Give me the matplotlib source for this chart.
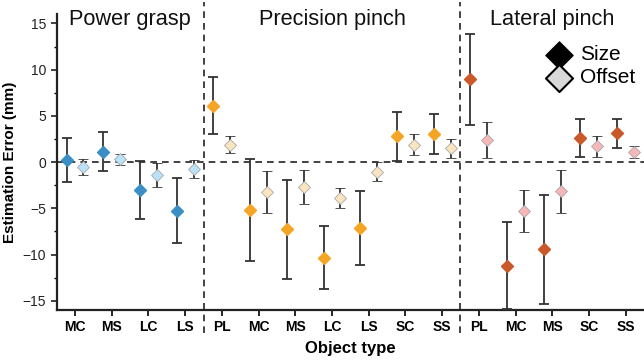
import matplotlib.pyplot as plt
import numpy as np

plt.rcParams['font.family'] = ['Liberation Sans', 'DejaVu Sans']

#------------------- datos -------------------
categorias = ['MC', 'MS', 'LC', 'LS',
              'PL', 'MC', 'MS', 'LC', 'LS', 'SC', 'SS',
              'PL', 'MC', 'MS', 'SC', 'SS']
grupos = ['Power grasp', 'Precision pinch', 'Lateral pinch']
n_grupo = [4, 7, 5]

size_val = [0.2, 1.1, -3.0, -5.25,
            6.1, -5.2, -7.25, -10.35, -7.1, 2.8, 3.05,
            8.95, -11.2, -9.45, 2.6, 3.1]
size_err = [2.4, 2.1, 3.15, 3.5,
            3.05, 5.5, 5.35, 3.4, 4.0, 2.65, 2.2,
            4.95, 4.7, 5.85, 2.1, 1.6]
offset_val = [-0.55, 0.32, -1.4, -0.75,
              1.9, -3.25, -2.7, -3.9, -1.05, 1.88, 1.5,
              2.4, -5.3, -3.18, 1.7, 1.08]
offset_err = [0.85, 0.6, 1.3, 0.97,
              0.93, 2.3, 1.8, 1.1, 1.05, 1.13, 1.05,
              1.93, 2.27, 2.3, 1.1, 0.62]

color_size = ['#3b8fc5', '#f5a524', '#c9582a']
color_offset = ['#b9e1f8', '#fbe5c0', '#f7b7b9']
#---------------------------------------------

fig = plt.figure(figsize=[6.44, 3.63], dpi=100)
ax = fig.add_axes([0.088, 0.146, 0.912, 0.815])

x = np.arange(len(categorias))
d = 0.23
inicio = 0
for g in range(3):
    sl = slice(inicio, inicio + n_grupo[g])
    ax.errorbar(x[sl] - d, size_val[sl], yerr=size_err[sl], fmt='D', ms=6.5,
                mfc=color_size[g], mec=color_size[g], ecolor='#333333',
                elinewidth=1.3, capsize=3.5, capthick=1.3, zorder=3)
    ax.errorbar(x[sl] + d, offset_val[sl], yerr=offset_err[sl], fmt='D', ms=6.5,
                mfc=color_offset[g], mec='#a8a8a8', mew=0.6, ecolor='#333333',
                elinewidth=1.3, capsize=3.5, capthick=1.3, zorder=3)
    centro = inicio + (n_grupo[g] - 1) / 2
    ax.text(centro, 15.4, grupos[g], ha='center', va='center', fontsize=15.7, color='#111111')
    inicio += n_grupo[g]

# separadores
for xs in [3.5, 10.5]:
    ax.plot([xs, xs], [-18.5, 17.3], ls=(0, (4, 3)), color='#222222', lw=1.2, clip_on=False, zorder=1)
ax.axhline(0, ls=(0, (4, 3)), color='#222222', lw=1.2, zorder=1)

ax.set_xlim(-0.5, 15.5)
ax.set_ylim(-16, 16)
ax.set_xticks(x)
ax.set_xticklabels(categorias, fontsize=10, fontweight='bold')
ax.set_yticks([-15, -10, -5, 0, 5, 10, 15])
ax.set_yticks(np.arange(-15, 16, 2.5), minor=True)
ax.tick_params(axis='y', labelsize=10, colors='#222222', width=1.2, length=4)
ax.tick_params(axis='y', which='minor', width=1.0, length=2.5)
ax.tick_params(axis='x', width=1.2, length=4)
for s in ['top', 'right']:
    ax.spines[s].set_visible(False)
for s in ['left', 'bottom']:
    ax.spines[s].set_linewidth(1.6)
    ax.spines[s].set_color('#222222')

ax.set_xlabel('Object type', fontsize=12, fontweight='bold', labelpad=5)
ax.set_ylabel('Estimation Error (mm)', fontsize=11, fontweight='bold', labelpad=4)

# leyenda
h1 = ax.scatter([], [], marker='D', s=190, c='black', edgecolors='black')
h2 = ax.scatter([], [], marker='D', s=190, c='#d9d9d9', edgecolors='black', linewidths=1.5)
ax.legend([h1, h2], ['Size', 'Offset'], loc='upper right', bbox_to_anchor=(1.01, 0.945),
          frameon=False, fontsize=15, handletextpad=0.0, labelspacing=0.2, borderpad=0.2)

fig.savefig('out.png', dpi=100)
